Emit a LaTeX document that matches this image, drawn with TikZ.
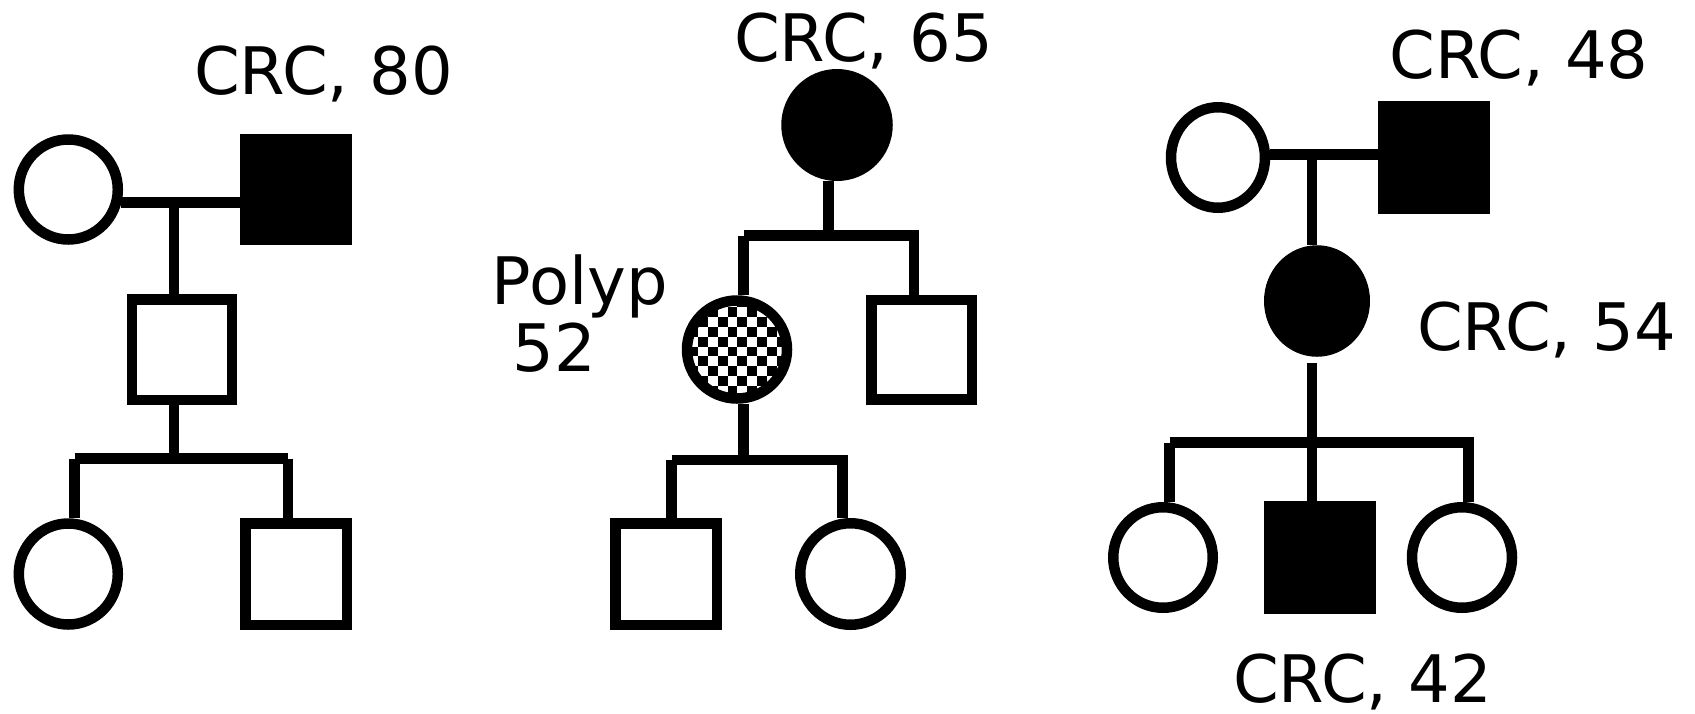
\documentclass[tikz,border=0pt]{standalone}
\usepackage{fontspec}
\setmainfont{DejaVu Sans}
\usetikzlibrary{shapes.geometric}
\tikzset{
  lw/.style={line width=10.5pt},
  ln/.style={lw, line cap=butt},
  fem/.style={draw, ellipse, lw, inner sep=0pt, fill=white},
  male/.style={draw, rectangle, lw, inner sep=0pt, fill=white},
  aff/.style={fill=black},
  lbl/.style={font=\fontsize{65.5}{66}\selectfont, inner sep=0pt, anchor=base}
}
\begin{document}
\begin{tikzpicture}[x=1pt,y=-1pt]
\useasboundingbox (0,0) rectangle (1695,713);
% ---------- left family ----------
\node[fem, minimum width=99pt, minimum height=100pt] (f1) at (68.3,189.5) {};
\node[male, aff, minimum width=101.5pt, minimum height=100.5pt] (m1) at (296,189.5) {};
\node[male, minimum width=100pt, minimum height=100.5pt] (c1) at (182,349.5) {};
\node[fem, minimum width=99pt, minimum height=101pt] (c2) at (68.3,574) {};
\node[male, minimum width=101.5pt, minimum height=101.5pt] (c3) at (296,574) {};
\coordinate (u1) at (174,202.5);
\coordinate (s1) at (174,458.5);
\coordinate (s1l) at (74.5,458.5);
\coordinate (s1r) at (288,458.5);
\draw[ln, shorten <=-2.5pt] (f1.east |- u1) -- (m1.west |- u1);
\draw[ln] (u1) -- (u1 |- c1.north);
\draw[ln] (u1 |- c1.south) -- (s1);
\draw[ln] (s1l) -- (s1r);
\draw[ln] (s1l) -- (s1l |- c2.north);
\draw[ln] (s1r) -- (s1r |- c3.north);
\node[lbl] (t80) at (323.5,94) {CRC, 80};
% ---------- middle family ----------
\node[fem, aff, minimum width=101pt, minimum height=101.5pt] (g1) at (837,125) {};
% checkerboard fill of the polyp individual
\begin{scope}
  \clip (737,349.5) ellipse [x radius=50pt, y radius=49pt];
  \fill[white] (680,292) rectangle (795,408);
  \foreach \i in {0,...,11}{\foreach \j in {0,...,11}{
    \pgfmathtruncatemacro\chk{mod(\i+\j,2)}
    \ifnum\chk=0 \fill[black] (678.5+\i*9.8, 297.6+\j*9.8) rectangle ++(9.8,9.8); \fi
  }}
\end{scope}
\node[fem, fill=none, minimum width=100pt, minimum height=98pt] (p) at (737,349.5) {};
\node[male, minimum width=100.5pt, minimum height=99.5pt] (s) at (921.5,349.5) {};
\node[male, minimum width=101.5pt, minimum height=101.5pt] (q) at (666,574) {};
\node[fem, minimum width=100.5pt, minimum height=101.5pt] (r) at (850.5,574) {};
\coordinate (t2) at (828.5,235.5);
\coordinate (t2l) at (743.5,235.5);
\coordinate (t2r) at (914,235.5);
\draw[ln] (t2 |- g1.south) -- (t2);
\draw[ln, shorten >=-5.25pt] (t2l) -- (t2r);
\draw[ln] (t2l) -- (t2l |- p.north);
\draw[ln] (t2r) -- (t2r |- s.north);
\coordinate (t3) at (743.5,460);
\coordinate (t3l) at (671.5,460);
\coordinate (t3r) at (842.5,460);
\draw[ln] (t3 |- p.south) -- (t3);
\draw[ln, shorten >=-5.25pt] (t3l) -- (t3r);
\draw[ln] (t3l) -- (t3l |- q.north);
\draw[ln] (t3r) -- (t3r |- r.north);
\node[lbl] (t65) at (863.5,61) {CRC, 65};
\node[lbl, anchor=base west] (polyp) at (491.6,304) {Polyp};
\node[lbl, anchor=base west] (a52) at (512.4,371) {52};
% ---------- right family ----------
\node[fem, minimum width=94pt, minimum height=100.5pt] (h1) at (1218,157.5) {};
\node[male, aff, minimum width=101.5pt, minimum height=102.5pt] (h2) at (1434,157.5) {};
\node[fem, aff, minimum width=95.5pt, minimum height=101pt] (k) at (1317,301) {};
\node[fem, minimum width=99.5pt, minimum height=100.5pt] (l) at (1163,557.5) {};
\node[male, aff, minimum width=101.5pt, minimum height=102.5pt] (mm) at (1320,557.5) {};
\node[fem, minimum width=100pt, minimum height=100.5pt] (n) at (1462,557.5) {};
\coordinate (u3) at (1312,154.5);
\coordinate (v3) at (1312,363);
\coordinate (s3l) at (1169.7,442.5);
\coordinate (s3r) at (1468.5,442.5);
\draw[ln] (h1.east |- u3) -- (h2.west |- u3);
\draw[ln] (u3) -- (u3 |- k.north);
\draw[ln] (v3) -- (v3 |- mm.north);
\draw[ln, shorten >=-5.25pt] (s3l) -- (s3r);
\draw[ln] (s3l) -- (s3l |- l.north);
\draw[ln] (s3r) -- (s3r |- n.north);
\node[lbl] (t48) at (1519,78) {CRC, 48};
\node[lbl] (t54) at (1546.5,350) {CRC, 54};
\node[lbl] (t42) at (1362.5,702) {CRC, 42};
\end{tikzpicture}
\end{document}
